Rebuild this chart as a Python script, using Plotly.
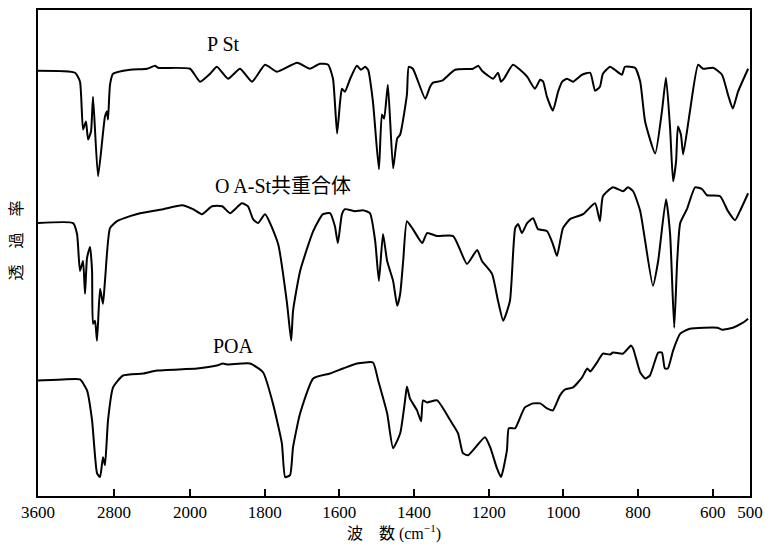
import plotly.graph_objects as go

# Wavenumbers (cm-1) and transmittance (arbitrary units, traces offset vertically)
pst_wn = [3600, 3210, 3158, 3126, 3095, 3073, 3042, 3021, 2968, 2895, 2873, 2863, 2842, 2810,
          2631, 2452, 2368, 2337, 2000, 1973, 1946, 1928, 1898, 1866, 1834, 1799, 1767, 1713,
          1679, 1652, 1630, 1617, 1606, 1598, 1593, 1585, 1571, 1553, 1542, 1531, 1523, 1510,
          1494, 1486, 1480, 1470, 1456, 1445, 1437, 1419, 1414, 1403, 1370, 1357, 1349, 1325,
          1290, 1242, 1228, 1218, 1188, 1175, 1167, 1159, 1135, 1116, 1097, 1076, 1062, 1054,
          1044, 1028, 1014, 1003, 990, 974, 950, 928, 915, 902, 894, 875, 862, 843, 835, 808,
          794, 781, 754, 736, 725, 714, 706, 698, 693, 685, 679, 661, 639, 626, 599, 575, 559,
          546, 532, 505]
pst_t = [431, 429, 420, 372, 380, 362, 370, 405, 325, 385, 390, 382, 417, 428,
         432, 433, 436, 434, 433, 420, 428, 435, 423, 433, 420, 437, 430, 439,
         433, 438, 437, 423, 368, 400, 413, 410, 423, 436, 432, 435, 432, 400,
         332, 387, 383, 417, 333, 363, 367, 407, 435, 433, 403, 415, 419, 421,
         432, 433, 436, 431, 423, 429, 420, 423, 437, 432, 425, 413, 422, 420,
         405, 391, 410, 420, 423, 420, 427, 429, 411, 415, 428, 435, 432, 427, 435, 434,
         420, 380, 348, 390, 424, 373, 320, 340, 375, 367, 347, 390, 437, 433, 434, 427, 407,
         393, 410, 433]

oast_wn = [3600, 3231, 3189, 3158, 3126, 3105, 3084, 3052, 3031, 3021, 3000, 2979, 2947, 2916,
           2895, 2842, 2768, 2631, 2526, 2284, 2084, 1992, 1968, 1941, 1914, 1893, 1861, 1845,
           1831, 1818, 1799, 1764, 1740, 1729, 1724, 1705, 1670, 1644, 1625, 1612, 1604, 1593,
           1585, 1558, 1537, 1518, 1504, 1494, 1483, 1472, 1456, 1445, 1437, 1429, 1419, 1403,
           1378, 1365, 1338, 1295, 1258, 1231, 1218, 1191, 1175, 1161, 1143, 1129, 1121, 1111,
           1097, 1081, 1068, 1044, 1028, 1017, 1001, 982, 947, 915, 902, 894, 867, 840, 827,
           813, 794, 760, 746, 725, 714, 703, 695, 687, 669, 647, 628, 615, 580, 559, 540, 527,
           505]
oast_t = [278, 278, 267, 230, 240, 207, 243, 254, 230, 177, 180, 160, 212, 197,
          220, 273, 280, 285, 288, 292, 296, 292, 287, 295, 295, 288, 298, 295,
          282, 278, 287, 257, 197, 160, 190, 230, 270, 287, 288, 275, 258, 287,
          292, 290, 291, 288, 260, 220, 267, 240, 220, 195, 207, 240, 280, 272,
          258, 268, 265, 265, 237, 251, 240, 227, 200, 180, 200, 273, 277, 268,
          278, 283, 272, 270, 257, 245, 273, 282, 287, 298, 280, 305, 314, 310, 314,
          310, 290, 215, 240, 302, 267, 173, 240, 278, 292, 314, 312, 306, 305, 290, 281, 290,
          308]

poa_wn = [3600, 3337, 3158, 3084, 3031, 2979, 2947, 2916, 2895, 2863, 2810, 2705, 2494, 2347,
          1981, 1928, 1912, 1901, 1839, 1804, 1778, 1754, 1745, 1732, 1724, 1705, 1670, 1625,
          1590, 1553, 1510, 1496, 1472, 1456, 1437, 1424, 1419, 1411, 1392, 1381, 1376, 1365,
          1338, 1303, 1282, 1269, 1255, 1210, 1196, 1178, 1167, 1151, 1146, 1129, 1121, 1103,
          1081, 1062, 1044, 1028, 1009, 995, 974, 950, 936, 928, 910, 894, 875, 867, 840, 819,
          813, 794, 781, 768, 746, 736, 728, 720, 706, 687, 661, 588, 575, 546, 519, 505]
poa_t = [120, 121, 121, 110, 80, 27, 23, 43, 35, 80, 113, 125, 127, 130,
         132, 135, 137, 136, 137, 128, 97, 57, 23, 25, 53, 87, 122, 127,
         132, 137, 138, 120, 87, 52, 67, 100, 114, 102, 90, 79, 100, 98,
         100, 80, 67, 47, 45, 63, 53, 32, 23, 50, 72, 72, 78, 93,
         97, 97, 92, 90, 105, 111, 113, 123, 132, 129, 138, 147, 146, 148, 147, 155,
         152, 128, 122, 125, 148, 148, 132, 132, 150, 167, 172, 173, 171, 173, 178, 182]

tick_wn = [3600, 2800, 2000, 1800, 1600, 1400, 1200, 1000, 800, 600, 500]
tick_text = [str(v) for v in tick_wn]


def wn_to_axis(w):
    # Spectrometer chart with a scale change at 2000 cm-1
    if w >= 2000:
        return (3600 - w) * 0.095
    return 152 + (2000 - w) * 0.3733


fig = go.Figure()
for wn, t in [(pst_wn, pst_t), (oast_wn, oast_t), (poa_wn, poa_t)]:
    fig.add_trace(go.Scatter(
        x=[wn_to_axis(w) for w in wn], y=t, mode="lines",
        line=dict(color="black", width=2, shape="spline", smoothing=0.5),
        showlegend=False, hoverinfo="skip"))

serif = "Liberation Serif, Noto Sans CJK JP, serif"


def label(text, x, y, size=20, angle=0):
    return dict(text=text, x=x, y=y, xref="paper", yref="paper", showarrow=False,
                xanchor="center", yanchor="middle", textangle=angle,
                font=dict(family=serif, size=size, color="black"))


fig.update_layout(
    width=775, height=550,
    margin=dict(l=38, r=25, t=8, b=54),
    paper_bgcolor="white", plot_bgcolor="white",
    font=dict(family=serif, color="black"),
    xaxis=dict(range=[0, wn_to_axis(500)], tickvals=[wn_to_axis(w) for w in tick_wn],
               ticktext=tick_text, ticks="inside", ticklen=7, tickwidth=1.5, tickcolor="black",
               showline=True, mirror=True, linecolor="black", linewidth=1.5,
               showgrid=False, zeroline=False, tickfont=dict(family=serif, size=17),
               title=dict(text="波\u3000数 (cm<sup>−1</sup>)", font=dict(family=serif, size=16),
                          standoff=4)),
    yaxis=dict(range=[4, 492], showticklabels=False, ticks="", showline=True, mirror=True,
               linecolor="black", linewidth=1.5, showgrid=False, zeroline=False),
    annotations=[
        label("P St", 0.261, 0.930),
        label("O A-St共重合体", 0.344, 0.637),
        label("POA", 0.274, 0.309),
        label("透\u3000過\u3000率", -0.030, 0.525, size=16, angle=-90),
    ],
)

fig.write_html("out.html")
